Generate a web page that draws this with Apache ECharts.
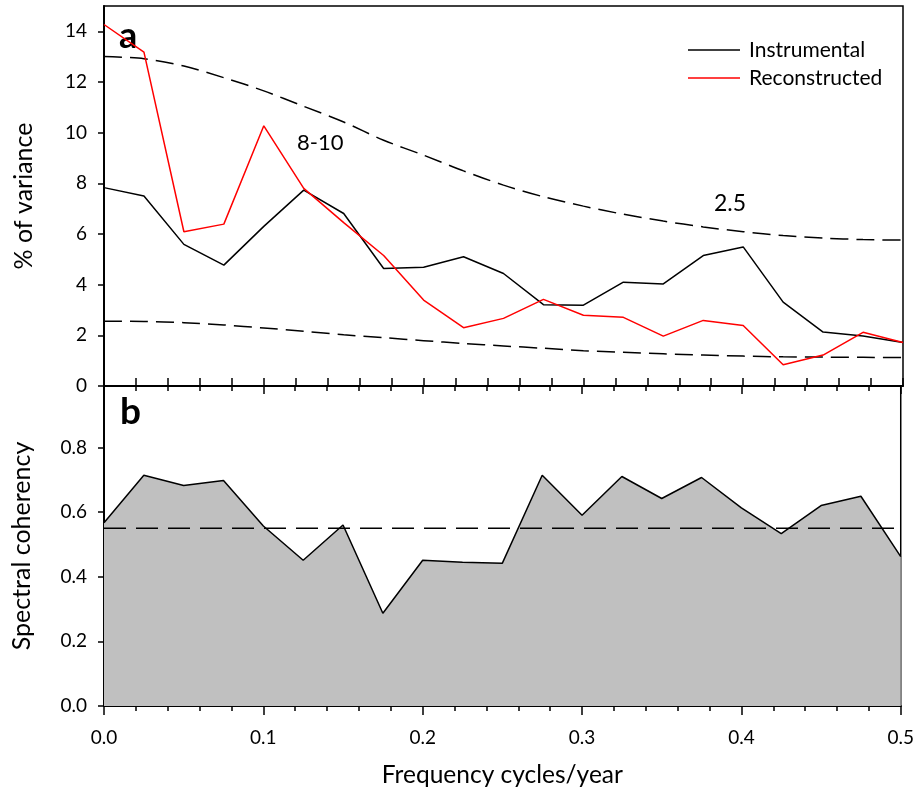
<!DOCTYPE html>
<html>
<head>
<meta charset="utf-8">
<script src="https://cdn.jsdelivr.net/npm/echarts@6/dist/echarts.min.js"></script>
<style>
html,body{margin:0;padding:0;background:#fff;}
#chart{width:917px;height:789px;}
</style>
</head>
<body>
<div id="chart"></div>
<script>
// 频率 (cycles/year)
var freq = [0, 0.025, 0.05, 0.075, 0.1, 0.125, 0.15, 0.175, 0.2, 0.225, 0.25,
            0.275, 0.3, 0.325, 0.35, 0.375, 0.4, 0.425, 0.45, 0.475, 0.5];
// a: % of variance
var instrumental = [7.83, 7.50, 5.59, 4.77, 6.30, 7.73, 6.81, 4.64, 4.69, 5.10, 4.44,
                    3.21, 3.19, 4.10, 4.03, 5.15, 5.49, 3.31, 2.13, 1.97, 1.72];
var reconstructed = [14.27, 13.18, 6.09, 6.39, 10.27, 7.80, 6.45, 5.15, 3.39, 2.30, 2.67,
                     3.42, 2.79, 2.71, 1.97, 2.59, 2.39, 0.84, 1.22, 2.12, 1.72];
var upperBound = [13.01, 12.92, 12.63, 12.17, 11.65, 11.04, 10.42, 9.70, 9.11, 8.49, 7.93,
                  7.47, 7.10, 6.78, 6.51, 6.28, 6.09, 5.94, 5.84, 5.78, 5.76];
var lowerBound = [2.56, 2.55, 2.50, 2.41, 2.29, 2.16, 2.02, 1.91, 1.79, 1.68, 1.58,
                  1.49, 1.39, 1.33, 1.27, 1.22, 1.18, 1.15, 1.14, 1.13, 1.12];
// b: spectral coherency
var coherency = [0.567, 0.714, 0.682, 0.698, 0.557, 0.451, 0.560, 0.287, 0.451, 0.445, 0.442,
                 0.714, 0.590, 0.710, 0.642, 0.707, 0.613, 0.533, 0.620, 0.649, 0.462];
var sigLevel = 0.55;
// 刻度
var xTicks = [0, 0.1, 0.2, 0.3, 0.4, 0.5];
var yTicksA = [0, 2, 4, 6, 8, 10, 12, 14];
var yTicksB = [0, 0.2, 0.4, 0.6, 0.8];

var fontName = 'Lato';
var fontColor = '#000';

function pairs(ys){
    return freq.map(function(x, i){ return [x, ys[i]]; });
}

var chart = echarts.init(document.getElementById('chart'));

var option = {
    animation: false,
    backgroundColor: '#fff',
    textStyle: { fontFamily: fontName, color: fontColor },
    grid: [
        { left: 104, right: 14, top: 6, height: 380, show: true, borderColor: '#000', borderWidth: 1.5, backgroundColor: 'transparent' },
        { left: 104, right: 14, top: 386, height: 322, show: true, borderColor: '#000', borderWidth: 1.5, backgroundColor: 'transparent' }
    ],
    legend: {
        orient: 'vertical',
        left: 683,
        top: 34,
        icon: 'rect',
        itemWidth: 52,
        itemHeight: 1.6,
        itemGap: 6,
        textStyle: { fontFamily: fontName, fontSize: 21, lineHeight: 22, color: '#000', padding: [0, 0, 0, 4] },
        data: ['Instrumental', 'Reconstructed']
    },
    xAxis: [
        {
            gridIndex: 0, type: 'value', min: 0, max: 0.5, interval: 0.1,
            axisLine: { show: true, lineStyle: { color: '#000', width: 2 } },
            axisTick: { show: true, inside: true, length: 8, lineStyle: { color: '#000', width: 1.5 } },
            minorTick: { show: true, splitNumber: 5, length: 8, lineStyle: { color: '#000', width: 1.5 } },
            axisLabel: { show: false },
            splitLine: { show: false }
        },
        {
            gridIndex: 1, type: 'value', min: 0, max: 0.5, interval: 0.1,
            name: 'Frequency cycles/year', nameLocation: 'middle', nameGap: 57,
            nameTextStyle: { fontFamily: fontName, fontSize: 24.5, color: '#000' },
            axisLine: { show: true, lineStyle: { color: '#000', width: 2 } },
            axisTick: { show: true, inside: false, length: 9, lineStyle: { color: '#000', width: 1.5 } },
            minorTick: { show: true, splitNumber: 5, length: 5, lineStyle: { color: '#000', width: 1.5 } },
            axisLabel: {
                show: true, margin: 22, fontSize: 19, color: '#000', fontFamily: fontName,
                customValues: xTicks,
                formatter: function(v){ return v.toFixed(1); }
            },
            splitLine: { show: false }
        },
        {
            gridIndex: 1, type: 'value', position: 'top', min: 0, max: 0.5, interval: 0.1,
            axisLine: { show: true, lineStyle: { color: '#000', width: 2 } },
            axisTick: { show: true, inside: true, length: 8, lineStyle: { color: '#000', width: 1.5 } },
            minorTick: { show: true, splitNumber: 5, length: 5, lineStyle: { color: '#000', width: 1.5 } },
            axisLabel: { show: false },
            splitLine: { show: false }
        }
    ],
    yAxis: [
        {
            gridIndex: 0, type: 'value', min: 0, max: 15,
            name: '% of variance', nameLocation: 'middle', nameGap: 68,
            nameTextStyle: { fontFamily: fontName, fontSize: 25, color: '#000' },
            axisLine: { show: true, lineStyle: { color: '#000', width: 2 } },
            axisTick: { show: true, inside: false, length: 6, customValues: yTicksA, lineStyle: { color: '#000', width: 1.5 } },
            axisLabel: { margin: 17, fontSize: 19, color: '#000', fontFamily: fontName, customValues: yTicksA },
            splitLine: { show: false }
        },
        {
            gridIndex: 1, type: 'value', min: 0, max: 0.99,
            name: 'Spectral coherency', nameLocation: 'middle', nameGap: 70,
            nameTextStyle: { fontFamily: fontName, fontSize: 25, color: '#000' },
            axisLine: { show: true, lineStyle: { color: '#000', width: 2 } },
            axisTick: { show: true, inside: false, length: 6, customValues: yTicksB, lineStyle: { color: '#000', width: 1.5 } },
            axisLabel: {
                margin: 17, fontSize: 19, color: '#000', fontFamily: fontName, customValues: yTicksB,
                formatter: function(v){ return v.toFixed(1); }
            },
            splitLine: { show: false }
        }
    ],
    series: [
        {
            name: 'upper', type: 'line', xAxisIndex: 0, yAxisIndex: 0,
            data: pairs(upperBound), symbol: 'none', smooth: 0.3, silent: true,
            lineStyle: { color: '#000', width: 1.5, type: [18, 8] }
        },
        {
            name: 'lower', type: 'line', xAxisIndex: 0, yAxisIndex: 0,
            data: pairs(lowerBound), symbol: 'none', smooth: 0.3, silent: true,
            lineStyle: { color: '#000', width: 1.5, type: [18, 8] }
        },
        {
            name: 'Instrumental', type: 'line', xAxisIndex: 0, yAxisIndex: 0,
            data: pairs(instrumental), symbol: 'none', color: '#000',
            lineStyle: { color: '#000', width: 1.5 }
        },
        {
            name: 'Reconstructed', type: 'line', xAxisIndex: 0, yAxisIndex: 0,
            data: pairs(reconstructed), symbol: 'none', color: '#ff0000',
            lineStyle: { color: '#ff0000', width: 1.5 }
        },
        {
            name: 'coherency', type: 'line', xAxisIndex: 1, yAxisIndex: 1,
            data: pairs(coherency), symbol: 'none',
            lineStyle: { color: '#000', width: 1.5 },
            areaStyle: { color: '#c0c0c0', opacity: 1 }
        },
        {
            name: 'sig', type: 'line', xAxisIndex: 1, yAxisIndex: 1,
            data: [[0, sigLevel], [0.5, sigLevel]], symbol: 'none', silent: true,
            lineStyle: { color: '#000', width: 1.5, type: [22, 10] }
        }
    ],
    graphic: [
        { type: 'text', left: 119, top: 18, style: { text: 'a', fontFamily: fontName, fontWeight: 'bold', fontSize: 36, fill: '#000' } },
        { type: 'text', left: 120, top: 394, style: { text: 'b', fontFamily: fontName, fontWeight: 'bold', fontSize: 37, fill: '#000' } },
        { type: 'text', left: 297, top: 132, style: { text: '8-10', fontFamily: fontName, fontSize: 22, fill: '#000' } },
        { type: 'text', left: 714, top: 192, style: { text: '2.5', fontFamily: fontName, fontSize: 23, fill: '#000' } }
    ]
};

chart.setOption(option);
window.addEventListener('resize', function(){ chart.resize(); });
</script>
</body>
</html>
